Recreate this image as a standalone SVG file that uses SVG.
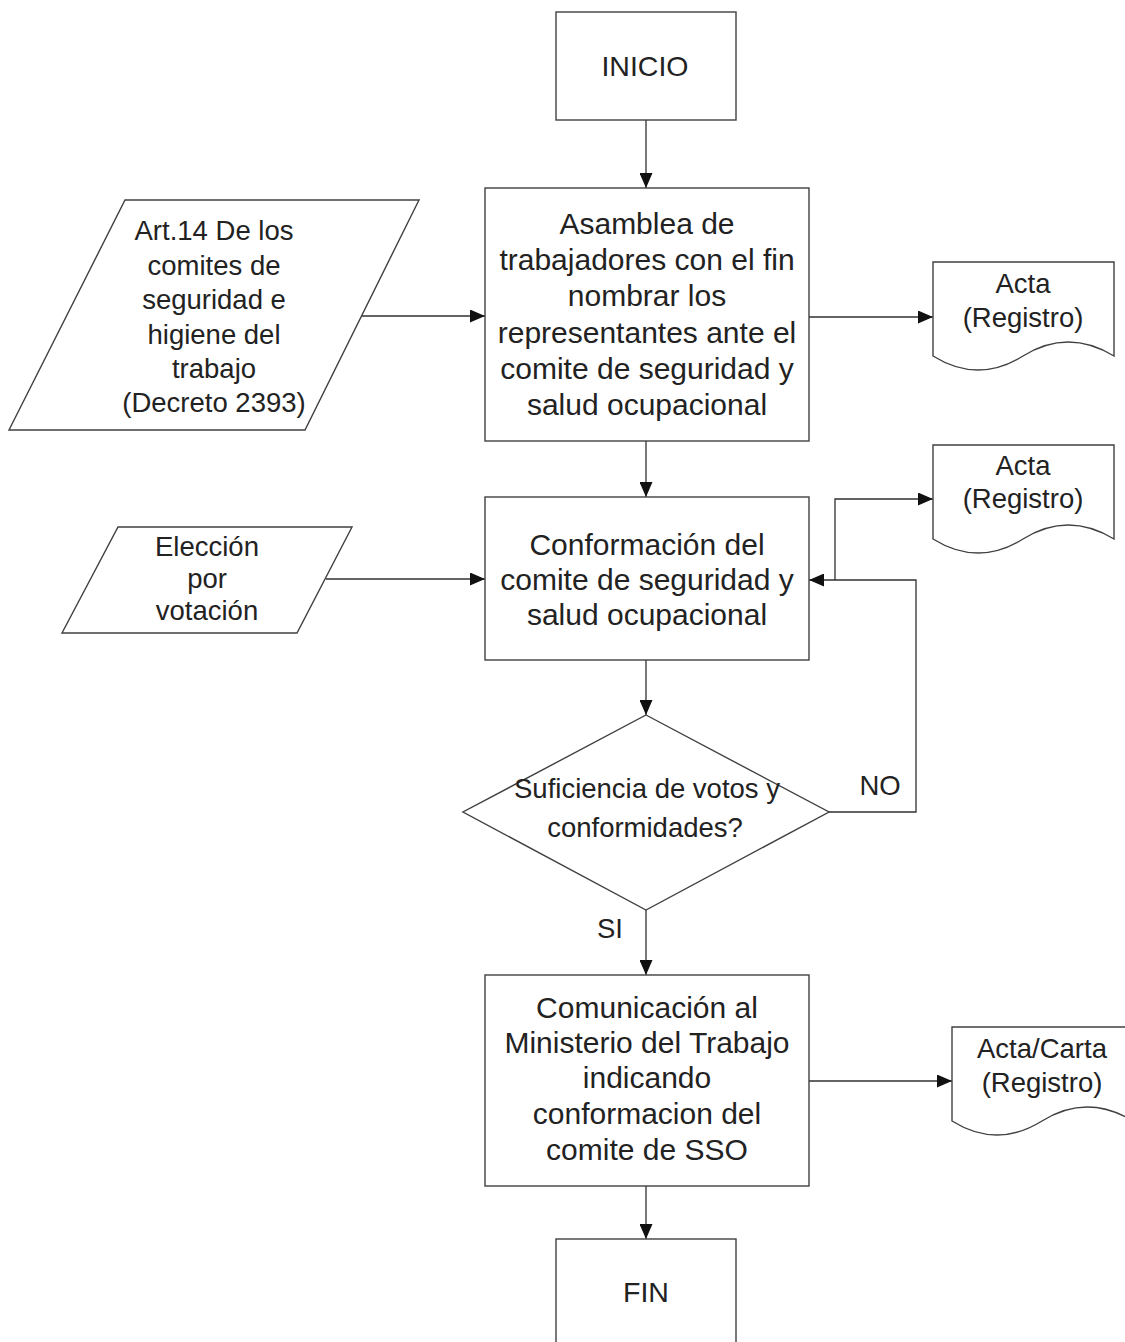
<svg xmlns="http://www.w3.org/2000/svg" width="1125" height="1342" viewBox="0 0 1125 1342">
<style>
.s{fill:#fff;stroke:#404040;stroke-width:1.4}
.c{fill:none;stroke:#303030;stroke-width:1.3}
text{font-family:"Liberation Sans",Arial,sans-serif;fill:#222;text-anchor:middle}
.b{font-size:30px}
.m{font-size:27.5px}
.t{font-size:28.5px}
</style>
<defs>
<marker id="ah" markerUnits="userSpaceOnUse" markerWidth="15" markerHeight="13" refX="15" refY="6.5" orient="auto">
<path d="M0,0 L15,6.5 L0,13 z" fill="#111"/>
</marker>
</defs>
<rect width="1125" height="1342" fill="#fff"/>
<g id="connectors">
<path class="c" d="M646,120 V188" marker-end="url(#ah)"/>
<path class="c" d="M646,441 V497" marker-end="url(#ah)"/>
<path class="c" d="M646,660 V715" marker-end="url(#ah)"/>
<path class="c" d="M646,910 V975" marker-end="url(#ah)"/>
<path class="c" d="M646,1186 V1239" marker-end="url(#ah)"/>
<path class="c" d="M362,316 H485" marker-end="url(#ah)"/>
<path class="c" d="M326,579 H485" marker-end="url(#ah)"/>
<path class="c" d="M809,317 H933" marker-end="url(#ah)"/>
<path class="c" d="M829,812 H916 V580 H809" marker-end="url(#ah)"/>
<path class="c" d="M835,580 V499 H933" marker-end="url(#ah)"/>
<path class="c" d="M809,1081 H952" marker-end="url(#ah)"/>
<text class="m" x="880" y="795">NO</text>
<text class="m" x="610" y="938">SI</text>
</g>
<g id="inicio">
<rect class="s" x="556" y="12" width="180" height="108"/>
<text class="t" x="645" y="76">INICIO</text>
</g>
<g id="asamblea">
<rect class="s" x="485" y="188" width="324" height="253"/>
<text class="b" x="647" y="234">Asamblea de</text>
<text class="b" x="647" y="270">trabajadores con el fin</text>
<text class="b" x="647" y="306">nombrar los</text>
<text class="b" x="647" y="343">representantes ante el</text>
<text class="b" x="647" y="379">comite de seguridad y</text>
<text class="b" x="647" y="415">salud ocupacional</text>
</g>
<g id="art14">
<polygon class="s" points="125,200 419,200 305,430 9,430"/>
<text class="m" x="214" y="240">Art.14 De los</text>
<text class="m" x="214" y="274.5">comites de</text>
<text class="m" x="214" y="309">seguridad e</text>
<text class="m" x="214" y="343.5">higiene del</text>
<text class="m" x="214" y="378">trabajo</text>
<text class="m" x="214" y="412">(Decreto 2393)</text>
</g>
<g id="acta1">
<path class="s" d="M933,262 H1114 V356 Q1068,328 1023,356 Q978,384 933,356 Z"/>
<text class="m" x="1023" y="293">Acta</text>
<text class="m" x="1023" y="327">(Registro)</text>
</g>
<g id="conformacion">
<rect class="s" x="485" y="497" width="324" height="163"/>
<text class="b" x="647" y="555">Conformación del</text>
<text class="b" x="647" y="590">comite de seguridad y</text>
<text class="b" x="647" y="625">salud ocupacional</text>
</g>
<g id="eleccion">
<polygon class="s" points="118,527 352,527 297,633 62,633"/>
<text class="m" x="207" y="556">Elección</text>
<text class="m" x="207" y="588">por</text>
<text class="m" x="207" y="620">votación</text>
</g>
<g id="acta2">
<path class="s" d="M933,445 H1114 V539 Q1068,511 1023,539 Q978,567 933,539 Z"/>
<text class="m" x="1023" y="475">Acta</text>
<text class="m" x="1023" y="508">(Registro)</text>
</g>
<g id="decision">
<polygon class="s" points="646,715 829,812 646,910 463,812"/>
<text class="m" x="647" y="798">Suficiencia de votos y</text>
<text class="m" x="645" y="837">conformidades?</text>
</g>
<g id="comunicacion">
<rect class="s" x="485" y="975" width="324" height="211"/>
<text class="b" x="647" y="1018">Comunicación al</text>
<text class="b" x="647" y="1053">Ministerio del Trabajo</text>
<text class="b" x="647" y="1088">indicando</text>
<text class="b" x="647" y="1124">conformacion del</text>
<text class="b" x="647" y="1160">comite de SSO</text>
</g>
<g id="acta3">
<path class="s" d="M952,1027 H1133 V1121 Q1087,1093 1042,1121 Q997,1149 952,1121 Z"/>
<text class="m" x="1042" y="1058">Acta/Carta</text>
<text class="m" x="1042" y="1092">(Registro)</text>
</g>
<g id="fin">
<rect class="s" x="556" y="1239" width="180" height="115"/>
<text class="t" x="646" y="1302">FIN</text>
</g>
</svg>
